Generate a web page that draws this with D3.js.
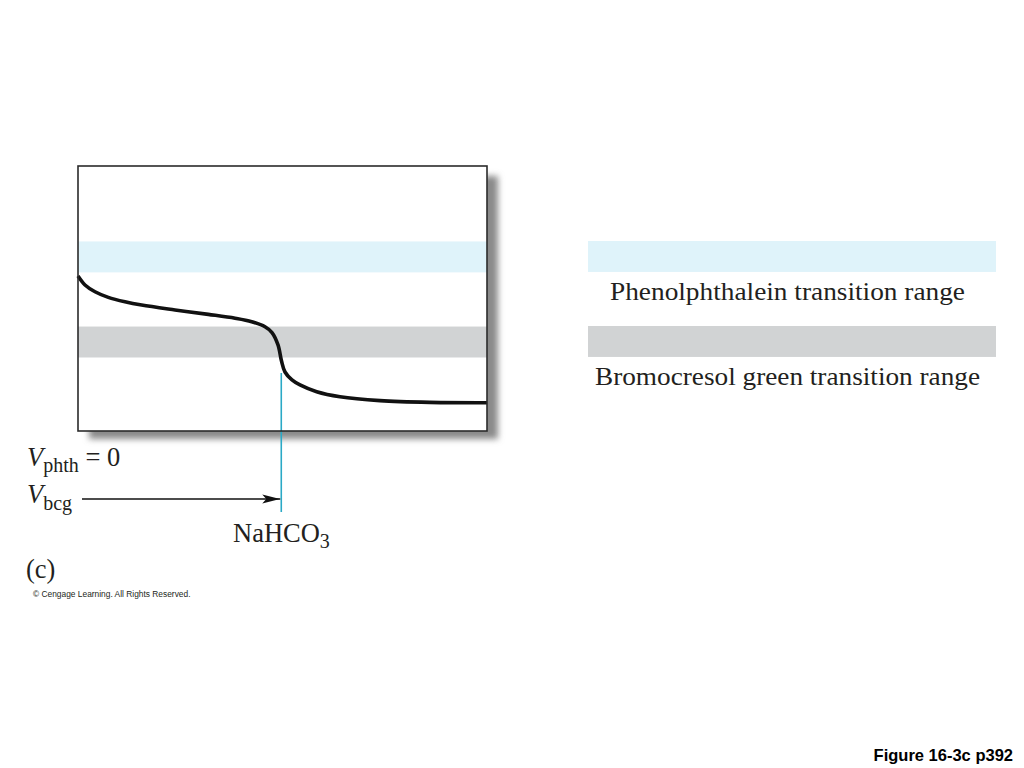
<!DOCTYPE html>
<html>
<head>
<meta charset="utf-8">
<script src="https://cdn.jsdelivr.net/npm/d3@7"></script>
<style>
  html, body { margin: 0; padding: 0; background: #fff; }
  svg { display: block; }
</style>
</head>
<body>
<svg id="chart" width="1024" height="768"></svg>
<script>
// ---- data ----
const volume = [0, 1.71, 4.16, 7.41, 11.49, 15.57, 23.72, 31.86, 38.39, 42.47, 45.72, 47.43, 48.90, 49.76, 50.61, 52.32, 54.28, 58.36, 64.06, 73.84, 86.06, 100];
const pH     = [8.01, 7.55, 7.20, 6.91, 6.68, 6.51, 6.26, 6.03, 5.83, 5.65, 5.39, 5.09, 4.45, 3.62, 3.05, 2.64, 2.38, 2.03, 1.77, 1.57, 1.48, 1.46];
const bandNames  = ["Phenolphthalein transition range", "Bromocresol green transition range"];
const bandLow    = [8.2, 3.8];
const bandHigh   = [9.8, 5.4];
const bandColors = ["#dff3fa", "#d1d3d4"];
const equivalenceVolume = 49.7;
const equivalenceLabel = ["NaHCO", "3"];

// ---- layout ----
const svg = d3.select("#chart");
const box = { left: 78, top: 166, right: 487, bottom: 431 };
const x = d3.scaleLinear().domain([0, 100]).range([box.left, box.right]);
const y = d3.scaleLinear().domain([0, 13.7]).range([box.bottom, box.top]);
const serif = "'Liberation Serif', 'Times New Roman', serif";
const ink = "#231f20";

const defs = svg.append("defs");
const f = defs.append("filter").attr("id", "blur").attr("x", "-10%").attr("y", "-10%").attr("width", "120%").attr("height", "120%");
f.append("feGaussianBlur").attr("stdDeviation", 3);

// shadow
svg.append("rect")
  .attr("x", box.left + 11).attr("y", box.top + 10)
  .attr("width", box.right - box.left).attr("height", box.bottom - box.top - 2)
  .attr("fill", "#8a8a8a").attr("filter", "url(#blur)");

// plot background
svg.append("rect")
  .attr("x", box.left).attr("y", box.top)
  .attr("width", box.right - box.left).attr("height", box.bottom - box.top)
  .attr("fill", "#fff");

// bands in plot
svg.selectAll("rect.band").data(bandNames).join("rect")
  .attr("class", "band")
  .attr("x", box.left).attr("width", box.right - box.left)
  .attr("y", (d, i) => y(bandHigh[i]))
  .attr("height", (d, i) => y(bandLow[i]) - y(bandHigh[i]))
  .attr("fill", (d, i) => bandColors[i]);

// curve
const pts = volume.map((v, i) => [v, pH[i]]);
svg.append("path")
  .datum(pts)
  .attr("d", d3.line().x(d => x(d[0])).y(d => y(d[1])).curve(d3.curveCatmullRom.alpha(0.5)))
  .attr("fill", "none").attr("stroke", "#111").attr("stroke-width", 3.6)
  .attr("stroke-linecap", "butt");

// equivalence marker line
const eqX = x(equivalenceVolume);
svg.append("line")
  .attr("x1", eqX).attr("x2", eqX)
  .attr("y1", y(3.0)).attr("y2", box.bottom + 81)
  .attr("stroke", "#2aa9c6").attr("stroke-width", 1.6);

// frame
svg.append("rect")
  .attr("x", box.left).attr("y", box.top)
  .attr("width", box.right - box.left).attr("height", box.bottom - box.top)
  .attr("fill", "none").attr("stroke", "#2b2b2b").attr("stroke-width", 1.6);

// arrow
defs.append("marker").attr("id", "arrow")
  .attr("viewBox", "0 0 18 10").attr("refX", 18).attr("refY", 5)
  .attr("markerWidth", 18).attr("markerHeight", 10).attr("markerUnits", "userSpaceOnUse")
  .attr("orient", "auto")
  .append("path").attr("d", "M0,0.5 L18,5 L0,9.5 L4,5 Z").attr("fill", "#111");
svg.append("line")
  .attr("x1", x(0) + 4).attr("x2", eqX - 1)
  .attr("y1", box.bottom + 68).attr("y2", box.bottom + 68)
  .attr("stroke", "#111").attr("stroke-width", 1.5)
  .attr("marker-end", "url(#arrow)");

// V labels
const t1 = svg.append("text").attr("x", 27).attr("y", 466)
  .attr("font-family", serif).attr("font-size", 26.5).attr("fill", ink);
t1.append("tspan").attr("font-style", "italic").text("V");
t1.append("tspan").attr("font-size", 20).attr("dy", 6).text("phth");
t1.append("tspan").attr("dy", -6).text(" = 0");

const t2 = svg.append("text").attr("x", 27).attr("y", 503)
  .attr("font-family", serif).attr("font-size", 26.5).attr("fill", ink);
t2.append("tspan").attr("font-style", "italic").text("V");
t2.append("tspan").attr("font-size", 20).attr("dy", 7).text("bcg");

// NaHCO3
const t3 = svg.append("text").attr("x", 233).attr("y", 542)
  .attr("font-family", serif).attr("font-size", 26.5).attr("fill", ink);
t3.append("tspan").text(equivalenceLabel[0]);
t3.append("tspan").attr("font-size", 20).attr("dy", 6).text(equivalenceLabel[1]);

// (c)
svg.append("text").attr("x", 26).attr("y", 578)
  .attr("font-family", serif).attr("font-size", 26.5).attr("fill", ink).text("(c)");

// copyright
svg.append("text").attr("x", 33).attr("y", 597)
  .attr("font-family", "'Liberation Sans', Arial, sans-serif").attr("font-size", 8.4)
  .attr("fill", ink).text("© Cengage Learning. All Rights Reserved.");

// legend
const legX = 588, legW = 408;
const legTop = [241, 326];
const legTextX = [610, 595];
const legTextY = [300, 385];
const legTextW = [355, 385];
const leg = svg.append("g");
bandNames.forEach((name, i) => {
  leg.append("rect").attr("x", legX).attr("y", legTop[i])
    .attr("width", legW).attr("height", y(bandLow[i]) - y(bandHigh[i]))
    .attr("fill", bandColors[i]);
  leg.append("text").attr("x", legTextX[i]).attr("y", legTextY[i])
    .attr("font-family", serif).attr("font-size", 26).attr("fill", ink)
    .attr("textLength", legTextW[i]).attr("lengthAdjust", "spacingAndGlyphs")
    .text(name);
});

// figure label
svg.append("text").attr("x", 1013).attr("y", 761).attr("text-anchor", "end")
  .attr("font-family", "'Liberation Sans', Arial, sans-serif").attr("font-size", 16.5)
  .attr("font-weight", "bold").attr("fill", "#000").text("Figure 16-3c p392");
</script>
</body>
</html>
